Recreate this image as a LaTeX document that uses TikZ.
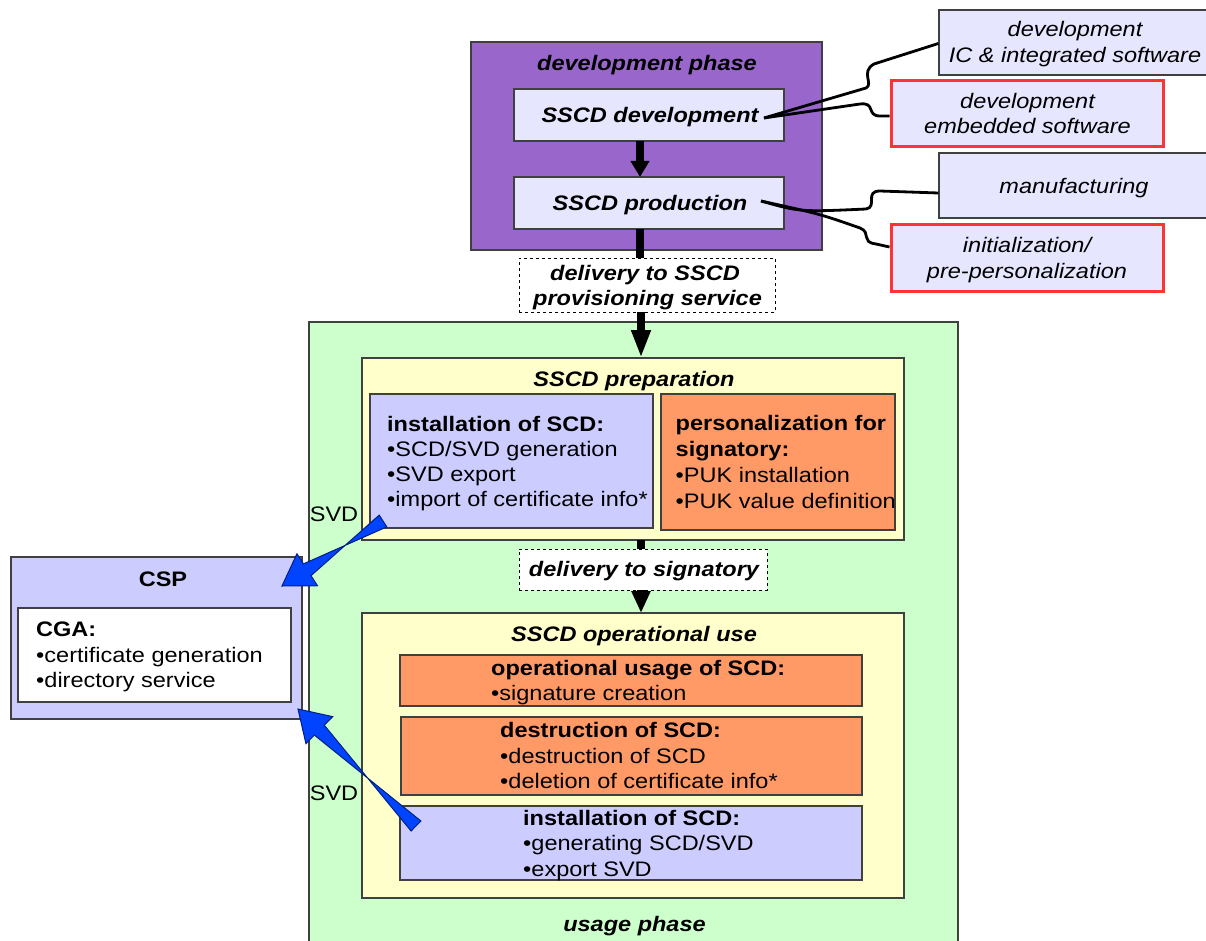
\documentclass[tikz,border=0pt]{standalone}
\usepackage{fontspec}
\setmainfont{Liberation Sans}[FakeStretch=1.12]
\usetikzlibrary{fit,arrows.meta,calc}
\definecolor{purp}{HTML}{9966CC}
\definecolor{lavlt}{HTML}{E6E6FF}
\definecolor{lav}{HTML}{CCCCFF}
\definecolor{orng}{HTML}{FF9966}
\definecolor{ylw}{HTML}{FFFFCC}
\definecolor{grn}{HTML}{CCFFCC}
\definecolor{redb}{HTML}{FF3333}
\definecolor{bord}{HTML}{404040}
\definecolor{arrblue}{HTML}{0044FF}
\definecolor{arrdark}{HTML}{002080}
\tikzset{
  every node/.style={font=\fontsize{21}{25}\selectfont, inner sep=0pt},
  box/.style={draw=bord, line width=1.3pt, inner sep=0pt},
  redbox/.style={draw=redb, line width=3pt, inner sep=0pt, fill=lavlt},
  dashbox/.style={draw=black, dashed, line width=0.9pt, fill=white, inner sep=0pt},
  ttl/.style={anchor=base, font=\fontsize{21}{25}\selectfont\bfseries\itshape},
  itl/.style={anchor=base, font=\fontsize{21}{25}\selectfont\itshape},
  hd/.style={anchor=base west, font=\fontsize{21}{25}\selectfont\bfseries},
  ln/.style={anchor=base west},
  conn/.style={draw=black, line width=2.8pt},
  flow/.style={draw=black, line width=7.5pt},
  flowhead/.style={flow, -{Triangle[length=#1,width=18pt]}},
  svdarrow/.style={fill=arrblue, draw=arrdark, line width=1pt, line join=miter},
}
% block arrow: #1 tail, #2 tip, #3 prefix for helper coordinate
\newcommand\blockarrow[3]{%
  \coordinate (#3h) at ($(#2)!30pt!(#1)$);
  \filldraw[svdarrow] ($(#1)!7pt!90:(#2)$) -- ($(#3h)!7pt!-90:(#2)$)
    -- ($(#3h)!19pt!-90:(#2)$) -- (#2) -- ($(#3h)!19pt!90:(#2)$)
    -- ($(#3h)!7pt!90:(#2)$) -- ($(#1)!7pt!-90:(#2)$) -- cycle;
}
\begin{document}
\begin{tikzpicture}[x=1pt,y=-1pt]
\useasboundingbox (0,0) rectangle (1206,941);
\clip (0,0) rectangle (1206,941);
\fill[white] (0,0) rectangle (1206,941);

% ---- development phase
\node[box, fill=purp, fit={(471,42) (822,250)}] (devphase) {};
\node[ttl] (tdevphase) at (647,71) {development phase};
\node[box, fill=lavlt, fit={(514,89) (784,141)}] (sscddev) {};
\node[ttl] (tsscddev) at (650,123) {SSCD development};
\node[box, fill=lavlt, fit={(514,177) (784,229)}] (sscdprod) {};
\node[ttl] (tsscdprod) at (650,210.7) {SSCD production};

% ---- callouts
\node[box, fill=lavlt, fit={(939,10) (1214,75)}] (ic) {};
\node[itl] (tic1) at (1075,36.7) {development};
\node[itl] (tic2) at (1075,62.3) {IC \& integrated software};
\node[redbox, fit={(891,81) (1163,147)}] (emb) {};
\node[itl] (temb1) at (1027.5,108.3) {development};
\node[itl] (temb2) at (1027.5,134) {embedded software};
\node[box, fill=lavlt, fit={(939,153) (1214,218)}] (manu) {};
\node[itl] (tmanu) at (1074,193.3) {manufacturing};
\node[redbox, fit={(891,225) (1163,291)}] (init) {};
\node[itl] (tinit1) at (1027,252.3) {initialization/};
\node[itl] (tinit2) at (1027,278.3) {pre-personalization};

\coordinate (devpt) at (764,118);
\coordinate (prodpt) at (761,201);
\draw[conn] (devpt) -- (866,88) .. controls (874,84) and (860,72) .. (874,64) -- ($(ic.west)+(0,1)$);
\draw[conn] (devpt) -- (860,104) .. controls (876,102) and (866,116) .. (880,116) -- ($(emb.west)+(0,2)$);
\draw[conn] (prodpt) .. controls (800,212) .. (866,209) .. controls (878,207) and (864,191) .. (880,191) -- ($(manu.west)+(0,7.5)$);
\draw[conn] (prodpt) .. controls (820,214) .. (860,228) .. controls (872,233) and (860,242) .. (876,244) -- ($(init.west)+(0,-11)$);

% ---- usage phase
\node[box, fill=grn, fit={(309,322) (958,970)}] (usage) {};
\node[ttl] (tusage) at (634.5,931.7) {usage phase};

\node[box, fill=ylw, fit={(362,358) (904,540)}] (prep) {};
\node[ttl] (tprep) at (634,386.7) {SSCD preparation};
\node[box, fill=lav, fit={(370,394) (653,528)}] (inst1) {};
\node[hd] (ti1a) at (387,431) {installation of SCD:};
\node[ln] (ti1b) at (387,456.7) {•SCD/SVD generation};
\node[ln] (ti1c) at (387,481.7) {•SVD export};
\node[ln] (ti1d) at (387,506.7) {•import of certificate info*};
\node[box, fill=orng, fit={(661,394) (895,530)}] (pers) {};
\node[hd] (tp1) at (675.5,430.7) {personalization for};
\node[hd] (tp2) at (675.5,456.7) {signatory:};
\node[ln] (tp3) at (675.5,482.3) {•PUK installation};
\node[ln] (tp4) at (675.5,508.3) {•PUK value definition};

\node[box, fill=ylw, fit={(362,613) (904,898)}] (oper) {};
\node[ttl] (toper) at (634,641.7) {SSCD operational use};
\node[box, fill=orng, fit={(400,655) (862,706)}] (opuse) {};
\node[hd] (to1) at (491,675) {operational usage of SCD:};
\node[ln] (to2) at (491,700.7) {•signature creation};
\node[box, fill=orng, fit={(401,717) (862,795)}] (destr) {};
\node[hd] (td1) at (500,737.3) {destruction of SCD:};
\node[ln] (td2) at (500,763.3) {•destruction of SCD};
\node[ln] (td3) at (500,788.3) {•deletion of certificate info*};
\node[box, fill=lav, fit={(400,806) (862,880)}] (inst2) {};
\node[hd] (ti2a) at (523,825) {installation of SCD:};
\node[ln] (ti2b) at (523,850.7) {•generating SCD/SVD};
\node[ln] (ti2c) at (523,876) {•export SVD};

% ---- flow arrows
\draw[flow] (640,229) -- (640,258);
\draw[flowhead=16pt] (640,141) -- (640,177);
\draw[flowhead=28pt] (641,312) -- (641,358);
\draw[flow] (641,540) -- (641,549);
\draw[flowhead=22pt] (641,590) -- (641,613);

\node[dashbox, fit={(519,258) (775,312)}] (deliv1) {};
\node[ttl] (tdel1a) at (645,280) {delivery to SSCD};
\node[ttl] (tdel1b) at (647.5,305.7) {provisioning service};
\node[dashbox, fit={(519,549) (767,590)}] (deliv2) {};
\node[ttl] (tdel2) at (644,576.7) {delivery to signatory};

% ---- CSP
\node[box, fill=lav, fit={(11,557) (302,719)}] (csp) {};
\node[anchor=base, font=\fontsize{21}{25}\selectfont\bfseries] (tcsp) at (163,586) {CSP};
\node[box, fill=white, fit={(18,608) (291,702)}] (cga) {};
\node[hd] (tcga1) at (36,636.7) {CGA:};
\node[ln] (tcga2) at (36,662.7) {•certificate generation};
\node[ln] (tcga3) at (36,687.7) {•directory service};

% ---- SVD arrows
\coordinate (a1tail) at (383,521);
\coordinate (a1tip) at (282,586);
\coordinate (a2tail) at (416,826);
\coordinate (a2tip) at (298,709);
\blockarrow{a1tail}{a1tip}{aa}
\blockarrow{a2tail}{a2tip}{ab}
\node[anchor=base] (svd1) at (334,521.7) {SVD};
\node[anchor=base] (svd2) at (334,800) {SVD};
\end{tikzpicture}
\end{document}
